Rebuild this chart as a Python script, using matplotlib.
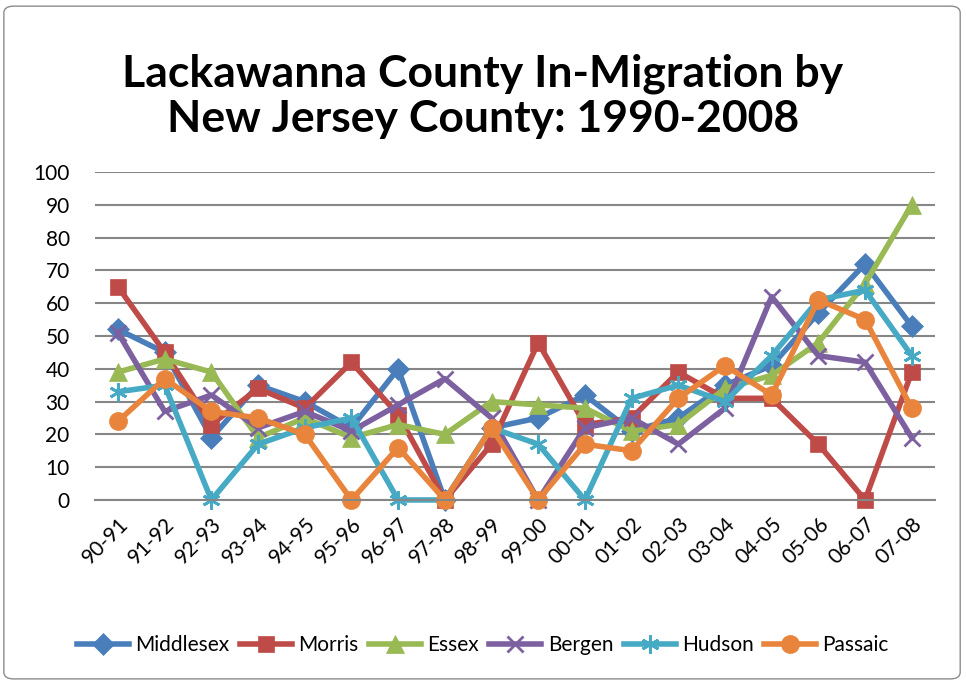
import matplotlib.pyplot as plt
from matplotlib.patches import FancyBboxPatch

periods = ['90-91', '91-92', '92-93', '93-94', '94-95', '95-96', '96-97', '97-98', '98-99',
           '99-00', '00-01', '01-02', '02-03', '03-04', '04-05', '05-06', '06-07', '07-08']

middlesex = [52, 45, 19, 35, 30, 22, 40, 0, 22, 25, 32, 21, 25, 35, 41, 57, 72, 53]
morris = [65, 45, 23, 34, 28, 42, 26, 0, 17, 48, 23, 25, 39, 31, 31, 17, 0, 39]
essex = [39, 43, 39, 19, 25, 19, 23, 20, 30, 29, 28, 21, 23, 34, 38, 48, 66, 90]
bergen = [51, 27, 32, 22, 27, 21, 29, 37, 25, 0, 22, 25, 17, 28, 62, 44, 42, 19]
hudson = [33, 35, 0, 17, 22, 25, 0, 0, 22, 17, 0, 31, 35, 30, 44, 61, 64, 44]
passaic = [24, 37, 27, 25, 20, 0, 16, 0, 22, 0, 17, 15, 31, 41, 32, 61, 55, 28]

series = [
    ('Middlesex', middlesex, '#4a7ebb', 'D', 11),
    ('Morris', morris, '#be4b48', 's', 12),
    ('Essex', essex, '#98b954', '^', 13),
    ('Bergen', bergen, '#7d60a0', 'x', 12),
    ('Hudson', hudson, '#46aac5', (6, 2, 0), 13),
    ('Passaic', passaic, '#e8843c', 'o', 13),
]

plt.rcParams['font.family'] = ['Lato', 'DejaVu Sans']

fig = plt.figure(figsize=(9.66, 6.83), dpi=100)
border = FancyBboxPatch((0.004, 0.006), 0.99, 0.985, boxstyle='round,pad=0,rounding_size=0.01',
                        transform=fig.transFigure, fill=False, edgecolor='#8c8c8c', linewidth=1)
fig.patches.append(border)

ax = fig.add_axes([0.098, 0.268, 0.870, 0.48])
x = list(range(len(periods)))
for name, vals, col, mk, ms in series:
    hollow = mk in ('x', (6, 2, 0))
    ax.plot(x, vals, color=col, linewidth=4, marker=mk, markersize=ms,
            markeredgewidth=2 if hollow else 0.5, markeredgecolor=col, label=name)

ax.set_xlim(-0.5, len(periods) - 0.5)
ax.set_ylim(0, 100)
ax.set_yticks(range(0, 101, 10))
ax.set_xticks(x)
ax.set_xticklabels(periods, rotation=45, ha='right', rotation_mode='anchor', fontsize=15)
ax.tick_params(axis='y', labelsize=15, length=0, pad=18)
ax.tick_params(axis='x', length=0, pad=10)
ax.grid(axis='y', color='#868686', linewidth=1.5)
ax.set_axisbelow(True)
for s in ['top', 'right', 'left']:
    ax.spines[s].set_visible(False)
ax.spines['bottom'].set_color('#868686')
ax.spines['bottom'].set_linewidth(1.5)
for ln in ax.lines:
    ln.set_clip_on(False)

fig.text(0.5, 0.859, 'Lackawanna County In-Migration by\nNew Jersey County: 1990-2008',
         ha='center', va='center', fontsize=32, fontweight='bold', linespacing=1.15)

fig.legend(loc='center', bbox_to_anchor=(0.5, 0.055), ncol=6, frameon=False, fontsize=15,
           handlelength=2.5, columnspacing=0.5, handletextpad=0.3)

fig.savefig('out.png', dpi=100)
